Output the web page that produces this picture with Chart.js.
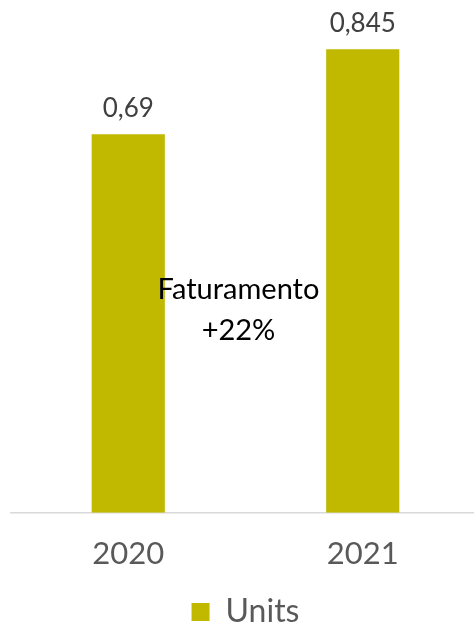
<!DOCTYPE html>
<html>
<head>
<meta charset="utf-8">
<script src="https://cdn.jsdelivr.net/npm/chart.js@4"></script>
<style>
  html, body { margin: 0; padding: 0; background: #fff; overflow: hidden; }
  #wrap { width: 480px; height: 623px; }
</style>
</head>
<body>
<div id="wrap"><canvas id="revenueChart"></canvas></div>
<script>
const years = ["2020", "2021"];
const units = [0.69, 0.845];
const valueLabels = ["0,69", "0,845"];
const centerText = ["Faturamento", "+22%"];

// value labels above bars + note in the middle
const labelPlugin = {
  id: "labels",
  afterDatasetsDraw(chart) {
    const ctx = chart.ctx;
    const meta = chart.getDatasetMeta(0);
    ctx.save();
    ctx.font = "26px Lato";
    ctx.fillStyle = "#404040";
    ctx.textAlign = "center";
    ctx.textBaseline = "alphabetic";
    meta.data.forEach((bar, i) => {
      ctx.fillText(valueLabels[i], bar.x, bar.y - 17);
    });
    ctx.fillStyle = "#000";
    ctx.textBaseline = "middle";
    ctx.font = "29px Lato";
    ctx.fillText(centerText[0], 238.5, 290);
    ctx.fillText(centerText[1], 238.5, 331);
    ctx.restore();
  }
};

new Chart(document.getElementById("revenueChart"), {
  type: "bar",
  data: {
    labels: years,
    datasets: [
      {
        label: "Units",
        data: units,
        backgroundColor: "#c0b900",
        borderWidth: 0,
        categoryPercentage: 1,
        barPercentage: 0.312
      }
    ]
  },
  options: {
    responsive: true,
    maintainAspectRatio: false,
    animation: false,
    // legend text runs past the bottom edge, as in the original
    layout: { padding: { top: 19, left: 11, right: 0, bottom: -15 } },
    plugins: {
      legend: {
        position: "bottom",
        labels: {
          color: "#595959",
          font: { family: "Lato", size: 32 },
          boxWidth: 18,
          boxHeight: 18,
          padding: 0
        }
      },
      tooltip: { enabled: false }
    },
    scales: {
      x: {
        grid: { display: false, drawTicks: false },
        border: { display: true, color: "#d9d9d9", width: 1.5 },
        ticks: {
          color: "#595959",
          font: { family: "Lato", size: 31 },
          padding: 23
        }
      },
      y: {
        display: false,
        min: 0,
        max: 0.9
      }
    }
  },
  plugins: [labelPlugin]
});
</script>
</body>
</html>
